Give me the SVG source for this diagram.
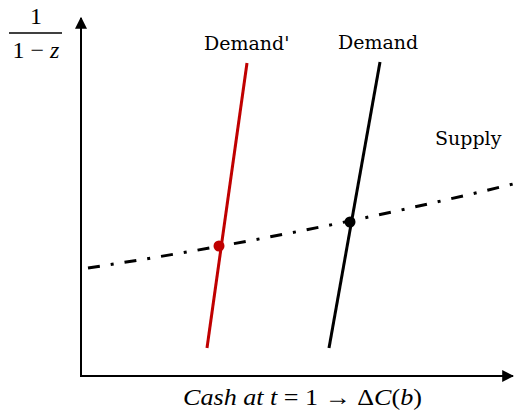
<svg xmlns="http://www.w3.org/2000/svg" width="515" height="411" viewBox="0 0 515 411">
<style>
.axis{stroke:#000;stroke-width:2;fill:none}
.lbl{font-family:"DejaVu Serif","Liberation Serif",serif;font-size:19px;fill:#000}
.math{font-family:"Liberation Serif","DejaVu Serif",serif;font-size:24px;fill:#000}
</style>
<defs>
<marker id="ah" viewBox="0 0 10 10" refX="9" refY="5" markerWidth="6" markerHeight="6" orient="auto" markerUnits="strokeWidth">
<path d="M0,0 L10,5 L0,10 z" fill="#000"/>
</marker>
</defs>
<rect width="515" height="411" fill="#fff"/>
<g id="axes">
<line class="axis" x1="81" y1="376" x2="81" y2="18" marker-end="url(#ah)"/>
<line class="axis" x1="80" y1="376" x2="513" y2="376" marker-end="url(#ah)"/>
</g>
<g id="y-label">
<text class="math" x="36" y="24" text-anchor="middle">1</text>
<line x1="9" y1="33" x2="62" y2="33" stroke="#000" stroke-width="1.5"/>
<text class="math" x="36" y="58" text-anchor="middle">1 − <tspan font-style="italic">z</tspan></text>
</g>
<g id="x-label">
<text class="math" x="183" y="405" font-size="21" textLength="239" lengthAdjust="spacingAndGlyphs"><tspan font-style="italic">Cash at t</tspan> = 1  → Δ<tspan font-style="italic">C</tspan>(<tspan font-style="italic">b</tspan>)</text>
</g>
<g id="connectors">
<path id="supply" d="M88,268 Q300,236 513,184" fill="none" stroke="#000" stroke-width="3" stroke-dasharray="12 11 3 11"/>
<line id="demand-prime" x1="207" y1="348" x2="247" y2="63" stroke="#c00000" stroke-width="3"/>
<line id="demand" x1="329" y1="348" x2="380" y2="62" stroke="#000" stroke-width="3"/>
</g>
<g id="node-demand-prime-label"><text class="lbl" x="204" y="50">Demand'</text></g>
<g id="node-demand-label"><text class="lbl" x="338" y="49">Demand</text></g>
<g id="node-supply-label"><text class="lbl" x="435" y="145">Supply</text></g>
<g id="node-eq-prime"><circle cx="219" cy="246" r="5.5" fill="#c00000"/></g>
<g id="node-eq"><circle cx="350" cy="222" r="5.5" fill="#000"/></g>
</svg>
